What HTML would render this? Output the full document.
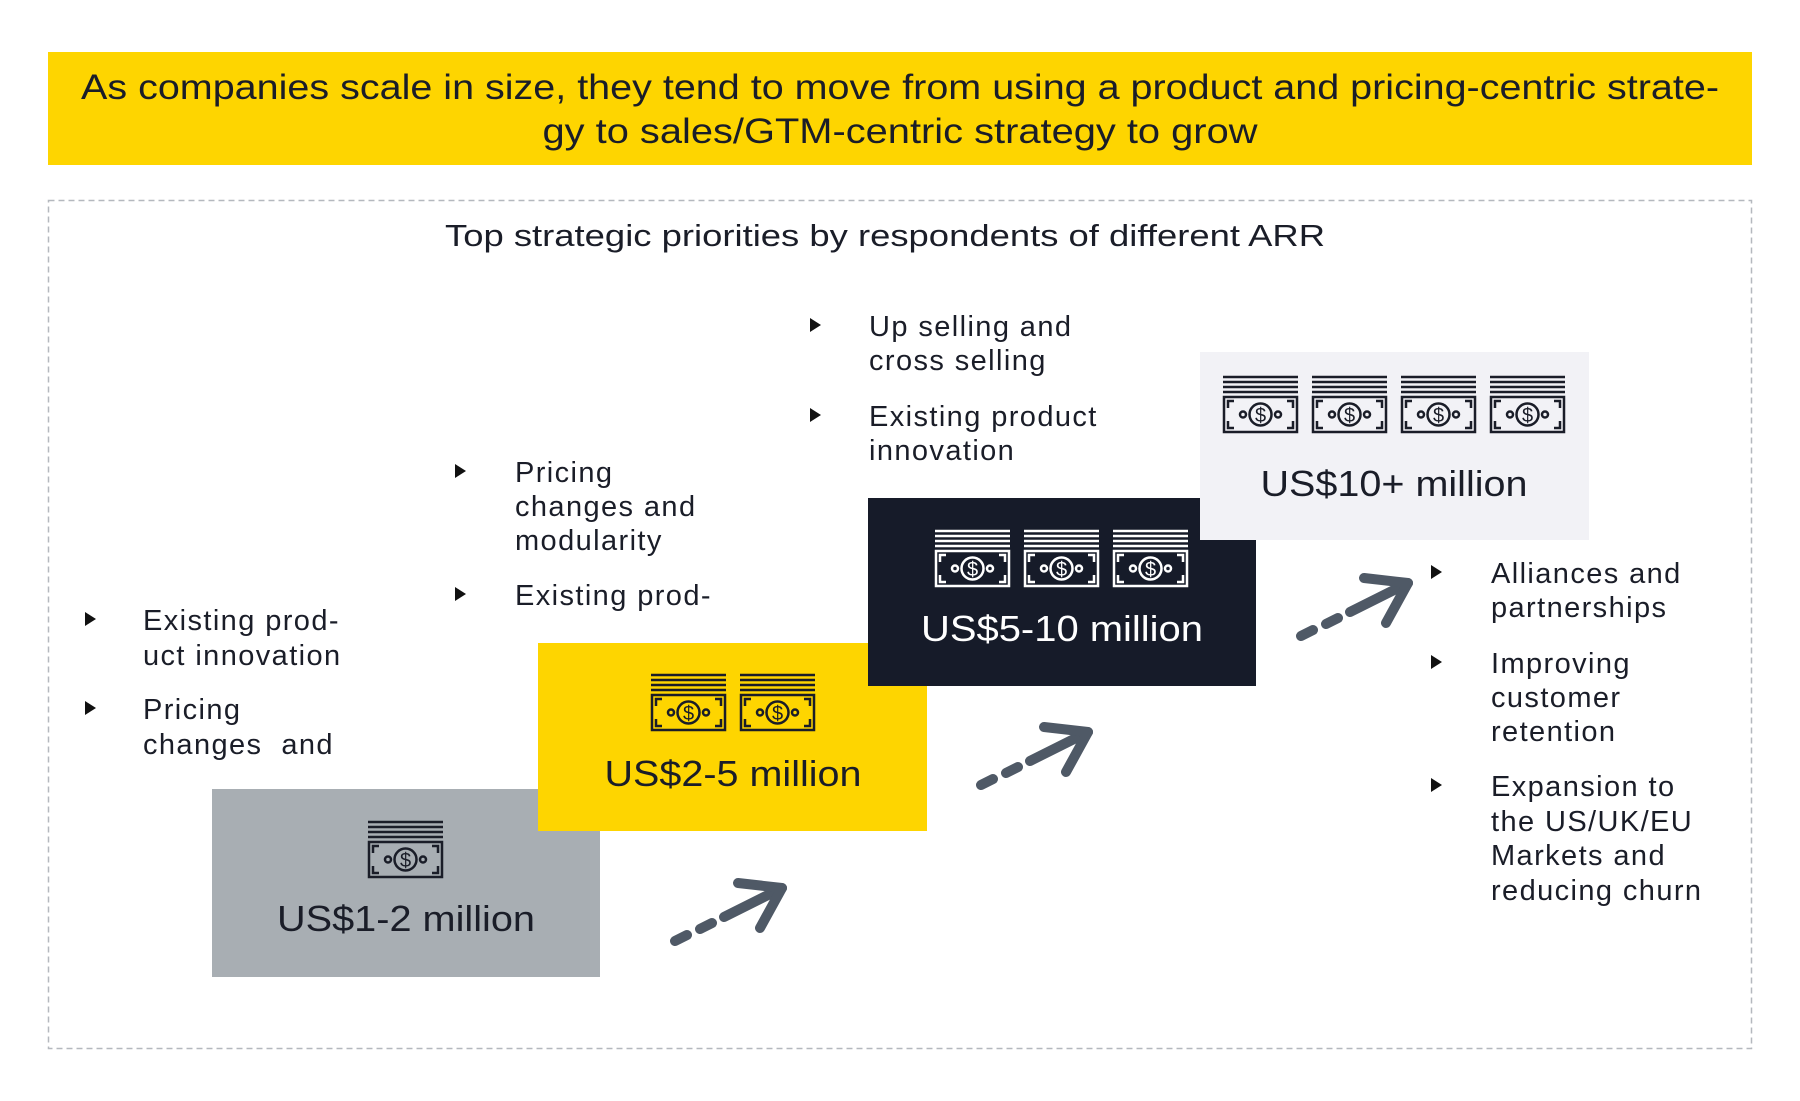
<!DOCTYPE html>
<html><head><meta charset="utf-8"><style>
html,body{margin:0;padding:0;background:#fff;}
svg{display:block;}
text{font-family:"Liberation Sans",sans-serif;fill:#1a1d28;}
</style></head><body>
<svg width="1800" height="1101" viewBox="0 0 1800 1101" xmlns="http://www.w3.org/2000/svg">
<rect x="48" y="52" width="1704" height="113" fill="#fed500"/>
<text x="900" y="99" font-size="35" text-anchor="middle" textLength="1638" lengthAdjust="spacingAndGlyphs">As companies scale in size, they tend to move from using a product and pricing-centric strate-</text>
<text x="900" y="143" font-size="35" text-anchor="middle" textLength="715" lengthAdjust="spacingAndGlyphs">gy to sales/GTM-centric strategy to grow</text>
<rect x="48.5" y="200.5" width="1703" height="848" fill="none" stroke="#b4b8be" stroke-width="1.5" stroke-dasharray="6,4"/>
<text x="885" y="246" font-size="31" text-anchor="middle" textLength="880" lengthAdjust="spacingAndGlyphs">Top strategic priorities by respondents of different ARR</text>

<rect x="212" y="789" width="388" height="188" fill="#a8aeb3"/>
<rect x="538" y="643" width="389" height="188" fill="#fed500"/>
<rect x="868" y="498" width="388" height="188" fill="#161b29"/>
<rect x="1200" y="352" width="389" height="188" fill="#f2f2f6"/>

<g>
<g transform="translate(368,821)" stroke="#1a1d28" fill="none" stroke-width="2.5"><path d="M0 1H75M0 6H75M0 11H75M0 16H75"/><rect x="1" y="21" width="73" height="35"/><path d="M5 32V25H11M70 32V25H64M5 45V52H11M70 45V52H64"/><circle cx="37.5" cy="38.5" r="11"/><circle cx="20" cy="38.5" r="3"/><circle cx="55" cy="38.5" r="3"/><text x="37.5" y="46" font-size="20" text-anchor="middle" stroke="none" fill="#1a1d28">$</text></g>

<g transform="translate(651,674)" stroke="#1a1d28" fill="none" stroke-width="2.5"><path d="M0 1H75M0 6H75M0 11H75M0 16H75"/><rect x="1" y="21" width="73" height="35"/><path d="M5 32V25H11M70 32V25H64M5 45V52H11M70 45V52H64"/><circle cx="37.5" cy="38.5" r="11"/><circle cx="20" cy="38.5" r="3"/><circle cx="55" cy="38.5" r="3"/><text x="37.5" y="46" font-size="20" text-anchor="middle" stroke="none" fill="#1a1d28">$</text></g>
<g transform="translate(740,674)" stroke="#1a1d28" fill="none" stroke-width="2.5"><path d="M0 1H75M0 6H75M0 11H75M0 16H75"/><rect x="1" y="21" width="73" height="35"/><path d="M5 32V25H11M70 32V25H64M5 45V52H11M70 45V52H64"/><circle cx="37.5" cy="38.5" r="11"/><circle cx="20" cy="38.5" r="3"/><circle cx="55" cy="38.5" r="3"/><text x="37.5" y="46" font-size="20" text-anchor="middle" stroke="none" fill="#1a1d28">$</text></g>

<g transform="translate(935,530)" stroke="#fff" fill="none" stroke-width="2.5"><path d="M0 1H75M0 6H75M0 11H75M0 16H75"/><rect x="1" y="21" width="73" height="35"/><path d="M5 32V25H11M70 32V25H64M5 45V52H11M70 45V52H64"/><circle cx="37.5" cy="38.5" r="11"/><circle cx="20" cy="38.5" r="3"/><circle cx="55" cy="38.5" r="3"/><text x="37.5" y="46" font-size="20" text-anchor="middle" stroke="none" style="fill:#fff">$</text></g>
<g transform="translate(1024,530)" stroke="#fff" fill="none" stroke-width="2.5"><path d="M0 1H75M0 6H75M0 11H75M0 16H75"/><rect x="1" y="21" width="73" height="35"/><path d="M5 32V25H11M70 32V25H64M5 45V52H11M70 45V52H64"/><circle cx="37.5" cy="38.5" r="11"/><circle cx="20" cy="38.5" r="3"/><circle cx="55" cy="38.5" r="3"/><text x="37.5" y="46" font-size="20" text-anchor="middle" stroke="none" style="fill:#fff">$</text></g>
<g transform="translate(1113,530)" stroke="#fff" fill="none" stroke-width="2.5"><path d="M0 1H75M0 6H75M0 11H75M0 16H75"/><rect x="1" y="21" width="73" height="35"/><path d="M5 32V25H11M70 32V25H64M5 45V52H11M70 45V52H64"/><circle cx="37.5" cy="38.5" r="11"/><circle cx="20" cy="38.5" r="3"/><circle cx="55" cy="38.5" r="3"/><text x="37.5" y="46" font-size="20" text-anchor="middle" stroke="none" style="fill:#fff">$</text></g>

<g transform="translate(1223,376)" stroke="#1a1d28" fill="none" stroke-width="2.5"><path d="M0 1H75M0 6H75M0 11H75M0 16H75"/><rect x="1" y="21" width="73" height="35"/><path d="M5 32V25H11M70 32V25H64M5 45V52H11M70 45V52H64"/><circle cx="37.5" cy="38.5" r="11"/><circle cx="20" cy="38.5" r="3"/><circle cx="55" cy="38.5" r="3"/><text x="37.5" y="46" font-size="20" text-anchor="middle" stroke="none" fill="#1a1d28">$</text></g>
<g transform="translate(1312,376)" stroke="#1a1d28" fill="none" stroke-width="2.5"><path d="M0 1H75M0 6H75M0 11H75M0 16H75"/><rect x="1" y="21" width="73" height="35"/><path d="M5 32V25H11M70 32V25H64M5 45V52H11M70 45V52H64"/><circle cx="37.5" cy="38.5" r="11"/><circle cx="20" cy="38.5" r="3"/><circle cx="55" cy="38.5" r="3"/><text x="37.5" y="46" font-size="20" text-anchor="middle" stroke="none" fill="#1a1d28">$</text></g>
<g transform="translate(1401,376)" stroke="#1a1d28" fill="none" stroke-width="2.5"><path d="M0 1H75M0 6H75M0 11H75M0 16H75"/><rect x="1" y="21" width="73" height="35"/><path d="M5 32V25H11M70 32V25H64M5 45V52H11M70 45V52H64"/><circle cx="37.5" cy="38.5" r="11"/><circle cx="20" cy="38.5" r="3"/><circle cx="55" cy="38.5" r="3"/><text x="37.5" y="46" font-size="20" text-anchor="middle" stroke="none" fill="#1a1d28">$</text></g>
<g transform="translate(1490,376)" stroke="#1a1d28" fill="none" stroke-width="2.5"><path d="M0 1H75M0 6H75M0 11H75M0 16H75"/><rect x="1" y="21" width="73" height="35"/><path d="M5 32V25H11M70 32V25H64M5 45V52H11M70 45V52H64"/><circle cx="37.5" cy="38.5" r="11"/><circle cx="20" cy="38.5" r="3"/><circle cx="55" cy="38.5" r="3"/><text x="37.5" y="46" font-size="20" text-anchor="middle" stroke="none" fill="#1a1d28">$</text></g>
</g>

<text x="406" y="931" font-size="36" text-anchor="middle" textLength="258" lengthAdjust="spacingAndGlyphs">US$1-2 million</text>
<text x="733" y="786" font-size="36" text-anchor="middle" textLength="257" lengthAdjust="spacingAndGlyphs">US$2-5 million</text>
<text x="1062" y="641" font-size="36" text-anchor="middle" textLength="282" lengthAdjust="spacingAndGlyphs" style="fill:#fff">US$5-10 million</text>
<text x="1394" y="496" font-size="36" text-anchor="middle" textLength="267" lengthAdjust="spacingAndGlyphs">US$10+ million</text>

<g fill="#111">
<path d="M85 612l11 7l-11 7z"/><path d="M85 701l11 7l-11 7z"/>
<path d="M455 464l11 7l-11 7z"/><path d="M455 587l11 7l-11 7z"/>
<path d="M810 318l11 7l-11 7z"/><path d="M810 408l11 7l-11 7z"/>
<path d="M1431 565l11 7l-11 7z"/><path d="M1431 655l11 7l-11 7z"/><path d="M1431 778l11 7l-11 7z"/>
</g>
<g font-size="29" letter-spacing="1.4">
<text x="143" y="630">Existing prod-</text>
<text x="143" y="665">uct innovation</text>
<text x="143" y="719">Pricing</text>
<text x="143" y="754" xml:space="preserve">changes  and</text>

<text x="515" y="482">Pricing</text>
<text x="515" y="516">changes and</text>
<text x="515" y="550">modularity</text>
<text x="515" y="605">Existing prod-</text>

<text x="869" y="336">Up selling and</text>
<text x="869" y="370">cross selling</text>
<text x="869" y="426">Existing product</text>
<text x="869" y="460">innovation</text>

<text x="1491" y="583">Alliances and</text>
<text x="1491" y="617">partnerships</text>
<text x="1491" y="673">Improving</text>
<text x="1491" y="707">customer</text>
<text x="1491" y="741">retention</text>
<text x="1491" y="796">Expansion to</text>
<text x="1491" y="831">the US/UK/EU</text>
<text x="1491" y="865">Markets and</text>
<text x="1491" y="900">reducing churn</text>
</g>

<g stroke="#4f5966" stroke-width="10" stroke-linecap="round" fill="none" stroke-linejoin="round">
<g>
<path d="M675 941L687 935M700 929L712 923M724 917L782 888"/><path d="M738 883L782 888L760 928"/>
</g>
<g transform="translate(306,-156)">
<path d="M675 941L687 935M700 929L712 923M724 917L782 888"/><path d="M738 883L782 888L760 928"/>
</g>
<g transform="translate(626,-305)">
<path d="M675 941L687 935M700 929L712 923M724 917L782 888"/><path d="M738 883L782 888L760 928"/>
</g>
</g>
</svg>
</body></html>
